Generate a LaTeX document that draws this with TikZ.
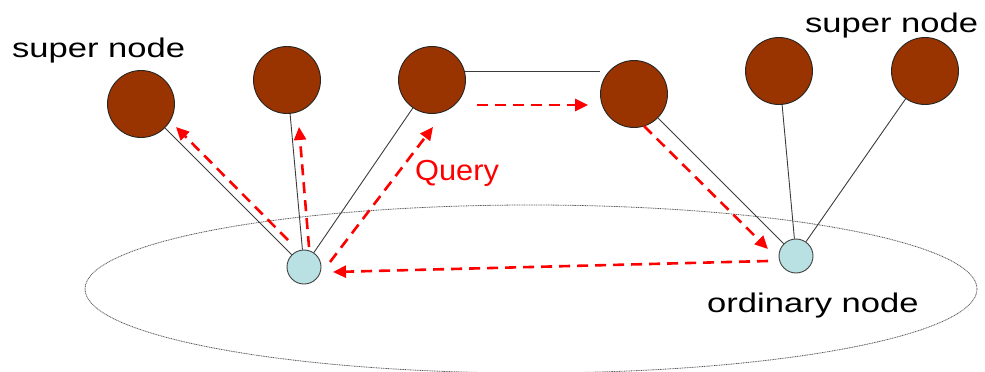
\documentclass[tikz,border=0pt]{standalone}
\usepackage{fontspec}
\setmainfont{Liberation Sans}
\usetikzlibrary{arrows.meta}
\definecolor{brownnode}{RGB}{153,51,0}
\definecolor{ordfill}{RGB}{185,224,227}
\definecolor{edgegray}{RGB}{60,60,60}
\definecolor{qred}{RGB}{255,0,0}
\tikzset{
  supern/.style={circle, draw=black!85, line width=0.9pt, fill=brownnode, minimum size=67pt, inner sep=0pt},
  ordn/.style={circle, draw=black!75, line width=0.9pt, fill=ordfill, minimum size=34pt, inner sep=0pt},
  link/.style={draw=edgegray, line width=0.9pt},
  query/.style={draw=qred, line width=2.6pt, dash pattern=on 11pt off 7pt, -{Triangle[length=13pt,width=12pt]}},
  lbl/.style={inner sep=0pt, font=\fontsize{27}{30}\selectfont},
}
\begin{document}
\begin{tikzpicture}[x=1pt,y=-1pt]
\useasboundingbox (0,0) rectangle (985,372);
% overlay (ellipse)
\draw[gray!70!black, line width=0.8pt, dash pattern=on 1pt off 0.7pt] (531,289) ellipse [x radius=446, y radius=84];
% super nodes
\node[supern] (S1) at (141,104) {};
\node[supern] (S2) at (287,80) {};
\node[supern] (S3) at (432,80) {};
\node[supern] (S4) at (634,94) {};
\node[supern] (S5) at (779,71) {};
\node[supern] (S6) at (925,71) {};
% ordinary nodes
\node[ordn] (O1) at (304,267) {};
\node[ordn] (O2) at (796,256) {};
% links
\draw[link] (S1) -- (O1);
\draw[link] (S2) -- (O1);
\draw[link] (S3) -- (O1);
\draw[link] (S3.15) -- (S3.15 -| S4.west);
\draw[link] (S4) -- (O2);
\draw[link] (S5) -- (O2);
\draw[link] (S6) -- (O2);
% query arrow end points
\coordinate (a1s) at (288,240); \coordinate (a1e) at (176,127);
\coordinate (a2s) at (309,247); \coordinate (a2e) at (299,127);
\coordinate (a3s) at (330,262); \coordinate (a3e) at (433,127);
\coordinate (a4s) at (477,105); \coordinate (a4e) at (588,105);
\coordinate (a5s) at (644,126); \coordinate (a5e) at (768,249);
\coordinate (a6s) at (768,261); \coordinate (a6e) at (333,272);
\draw[query] (a1s) -- (a1e);
\draw[query] (a2s) -- (a2e);
\draw[query] (a3s) -- (a3e);
\draw[query] (a4s) -- (a4e);
\draw[query] (a5s) -- (a5e);
\draw[query] (a6s) -- (a6e);
% labels
\node[lbl, anchor=base west] (L1) at (12,57) {\scalebox{1.28}[1]{super node}};
\node[lbl, anchor=base west] (L2) at (805,32) {\scalebox{1.28}[1]{super node}};
\node[lbl, anchor=base west] (L3) at (707,312) {\scalebox{1.28}[1]{ordinary node}};
\node[lbl, anchor=base west, text=qred, font=\fontsize{29}{32}\selectfont] (Q) at (415,180) {\scalebox{1.06}[1]{Query}};
\end{tikzpicture}
\end{document}
